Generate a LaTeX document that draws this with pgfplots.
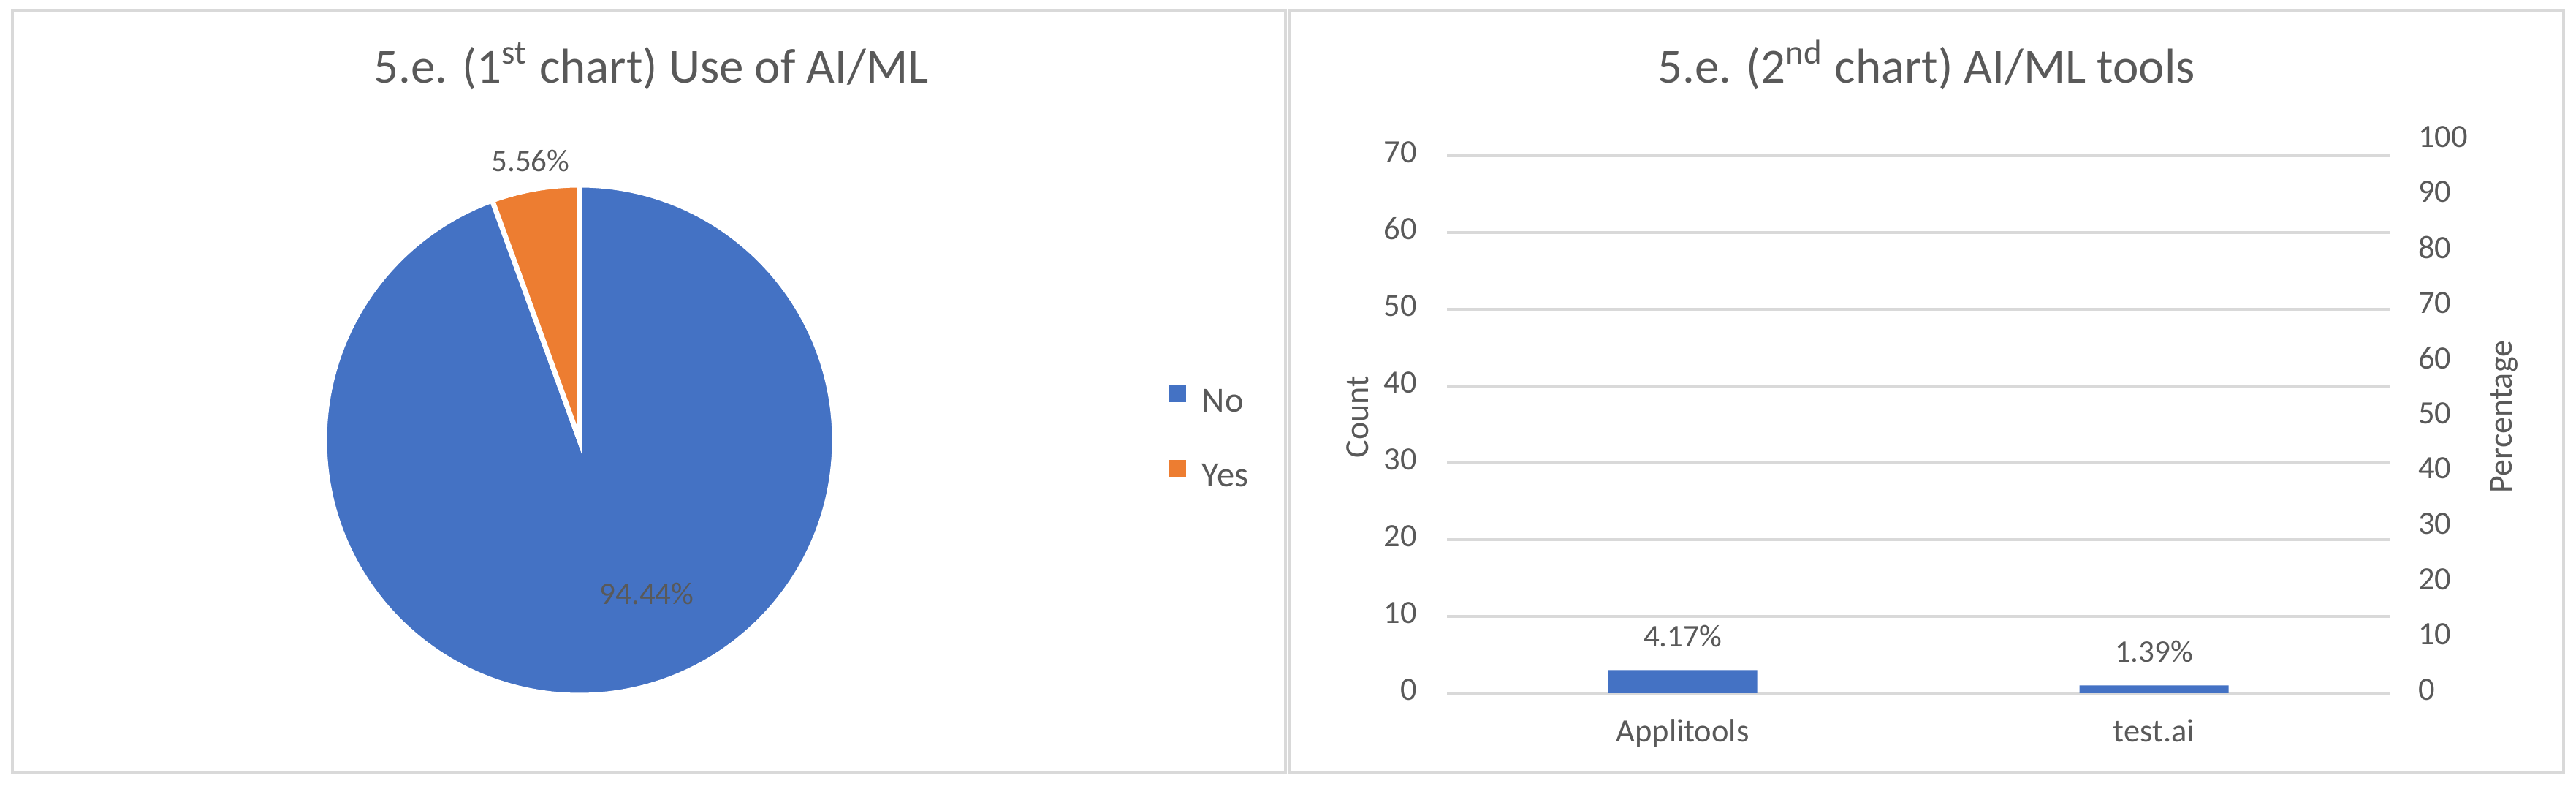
\documentclass[border=0pt]{standalone}
\usepackage{fontspec}
\setmainfont{Carlito}
\usepackage{pgfplots}
\pgfplotsset{compat=1.18}
\definecolor{cNo}{HTML}{4472C4}
\definecolor{cYes}{HTML}{ED7D31}
\definecolor{ctext}{HTML}{595959}
\definecolor{cgrid}{HTML}{D9D9D9}

\begin{document}
\begin{tikzpicture}
\path[use as bounding box] (0,0) rectangle (705pt,-215.8pt);
% panel frames
\draw[cgrid, line width=0.8pt] (3.4pt,-2.8pt) rectangle (351.8pt,-211.4pt);
\draw[cgrid, line width=0.8pt] (353pt,-2.8pt) rectangle (701.6pt,-211.4pt);

% titles
\node[anchor=base, font=\fontsize{13.4}{16}\selectfont, text=ctext] at (178.2pt,-22.8pt)
  {5.e. (1\textsuperscript{st} chart) Use of AI/ML};
\node[anchor=base, font=\fontsize{13.4}{16}\selectfont, text=ctext] at (527.2pt,-22.8pt)
  {5.e. (2\textsuperscript{nd} chart) AI/ML tools};

% ---------- pie: use of AI/ML ----------
\def\vNo{94.44}
\def\vYes{5.56}
\pgfmathsetmacro\aNo{90-3.6*\vNo}
\pgfmathsetmacro\aYes{\aNo-3.6*\vYes}
\begin{axis}[
  at={(158.6pt,-120.4pt)}, anchor=center,
  x=69.8pt, y=69.8pt,
  xmin=-1, xmax=1, ymin=-1, ymax=1,
  hide axis, clip=false,
  legend style={at={(axis cs:2.309,0.006)}, anchor=west, draw=none, fill=none,
    font=\fontsize{9.7}{11}\selectfont, text=ctext, inner sep=0pt, row sep=11.6pt,
    nodes={inner sep=0pt},
    /tikz/every odd column/.style={column sep=4.4pt}},
  legend cell align=left,
  legend image code/.code={\fill[#1, draw=none] (0pt,0.4pt) rectangle (4.6pt,5pt);},
]
\addlegendimage{fill=cNo, draw=none}
\addlegendentry{No}
\addlegendimage{fill=cYes, draw=none}
\addlegendentry{Yes}
\filldraw[fill=cNo, draw=white, line width=1.4pt] (axis cs:0,0) -- (axis cs:0,1)
  arc[start angle=90, end angle=\aNo, radius=69.8pt] -- cycle;
\filldraw[fill=cYes, draw=white, line width=1.4pt] (axis cs:0,0) -- (axis cs:{cos(\aNo)},{sin(\aNo)})
  arc[start angle=\aNo, end angle=\aYes, radius=69.8pt] -- cycle;
\node[font=\fontsize{8.6}{10}\selectfont, text=ctext] at (axis cs:-0.192,1.095) {5.56\%};
\node[font=\fontsize{8.6}{10}\selectfont, text=ctext] at (axis cs:0.264,-0.602) {94.44\%};
\end{axis}

% ---------- bars: AI/ML tools ----------
\begin{axis}[
  at={(396pt,-189.6pt)}, anchor=south west,
  width=258pt, height=151.2pt, scale only axis,
  xmin=-0.5, xmax=1.5, ymin=0, ymax=72,
  xtick={0,1}, xticklabels={Applitools,test.ai},
  ytick={0,10,...,70},
  ymajorgrids, grid style={cgrid, line width=0.7pt},
  axis line style={draw=none}, major tick length=0pt,
  tick label style={font=\fontsize{8.9}{10}\selectfont, text=ctext},
  /pgf/number format/assume math mode=true,
  yticklabel style={anchor=east, inner sep=0pt, xshift=-8pt, yshift=1pt},
  xticklabel style={anchor=base, inner sep=0pt, yshift=-13.4pt},
  ylabel={Count},
  ylabel style={at={(axis description cs:-0.083,0.5)}, anchor=base,
    font=\fontsize{9.2}{11}\selectfont, text=ctext},
  ybar, bar width=40.8pt,
  nodes near coords, point meta=explicit symbolic,
  nodes near coords style={anchor=base, inner sep=0pt, yshift=6.4pt,
    font=\fontsize{8.6}{10}\selectfont, text=ctext},
  clip=false,
]
\addplot[fill=cNo, draw=none] coordinates {(0,3) [4.17\%] (1,1) [1.39\%]};
\end{axis}

\begin{axis}[
  at={(396pt,-189.6pt)}, anchor=south west,
  width=258pt, height=151.2pt, scale only axis,
  xmin=-0.5, xmax=1.5, ymin=0, ymax=100,
  ytick={0,10,...,100},
  axis y line*=right, axis x line=none,
  axis line style={draw=none}, major tick length=0pt,
  tick label style={font=\fontsize{8.9}{10}\selectfont, text=ctext},
  /pgf/number format/assume math mode=true,
  yticklabel style={anchor=west, inner sep=0pt, xshift=7.6pt, yshift=1pt},
  ylabel={Percentage},
  ylabel style={at={(axis description cs:1.130,0.5)}, anchor=base, rotate=0,
    font=\fontsize{9.2}{11}\selectfont, text=ctext},
]
\addplot[draw=none, forget plot] coordinates {(0,4.17) (1,1.39)};
\end{axis}
\end{tikzpicture}
\end{document}
